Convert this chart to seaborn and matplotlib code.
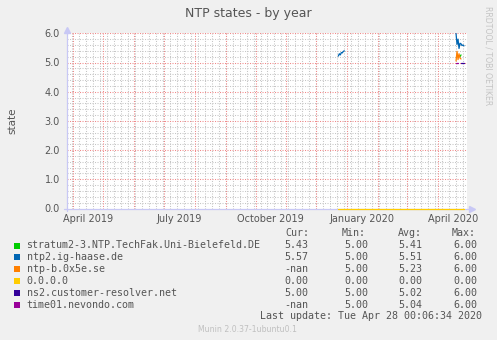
import matplotlib
matplotlib.use("Agg")
import matplotlib.pyplot as plt
import pandas as pd
import seaborn as sns
from matplotlib.patches import Rectangle

# ---- series metadata -------------------------------------------------------
hosts = [
    "stratum2-3.NTP.TechFak.Uni-Bielefeld.DE",
    "ntp2.ig-haase.de",
    "ntp-b.0x5e.se",
    "0.0.0.0",
    "ns2.customer-resolver.net",
    "time01.nevondo.com",
]
colors = ["#00CC00", "#0066B3", "#FF8000", "#FFCC00", "#330099", "#990099"]

cur_vals = ["5.43", "5.57", "-nan", "0.00", "5.00", "-nan"]
min_vals = ["5.00", "5.00", "5.00", "0.00", "5.00", "5.00"]
avg_vals = ["5.41", "5.51", "5.23", "0.00", "5.02", "5.04"]
max_vals = ["6.00", "6.00", "6.00", "0.00", "6.00", "6.00"]

# ---- recorded samples (daily averages), one list pair per contiguous run ---
bielefeld_dates = ["2020-04-23", "2020-04-24"]
bielefeld_vals = [5.20, 5.26]

haase_dates_dec = ["2019-12-23", "2019-12-24", "2019-12-25", "2019-12-26",
                   "2019-12-27", "2019-12-28", "2019-12-29"]
haase_vals_dec = [5.22, 5.30, 5.26, 5.34, 5.33, 5.38, 5.40]

haase_dates_apr = ["2020-04-19", "2020-04-20", "2020-04-21", "2020-04-22",
                   "2020-04-23", "2020-04-24", "2020-04-25", "2020-04-26",
                   "2020-04-27"]
haase_vals_apr = [5.99, 5.62, 5.80, 5.48, 5.66, 5.64, 5.58, 5.60, 5.57]

ox5e_dates = ["2020-04-19", "2020-04-20", "2020-04-21", "2020-04-22",
              "2020-04-23", "2020-04-24"]
ox5e_vals = [5.05, 5.38, 5.10, 5.30, 5.15, 5.12]

zero_dates = ["2019-12-23", "2020-04-27"]
zero_vals = [0.0, 0.0]

resolver_dates = ["2020-04-24", "2020-04-25", "2020-04-26", "2020-04-27"]
resolver_vals = [5.00, 5.00, 5.00, 5.00]

nevondo_dates = ["2020-04-19", "2020-04-20", "2020-04-21"]
nevondo_vals = [5.00, 5.00, 5.00]

runs = [
    (hosts[0], bielefeld_dates, bielefeld_vals),
    (hosts[1], haase_dates_dec, haase_vals_dec),
    (hosts[1], haase_dates_apr, haase_vals_apr),
    (hosts[2], ox5e_dates, ox5e_vals),
    (hosts[3], zero_dates, zero_vals),
    (hosts[4], resolver_dates, resolver_vals),
    (hosts[5], nevondo_dates, nevondo_vals),
]

frames = []
for i, (h, d, v) in enumerate(runs):
    frames.append(pd.DataFrame({"host": h, "run": i,
                                "date": pd.to_datetime(d), "state": v}))
df = pd.concat(frames, ignore_index=True)

# ---- figure ----------------------------------------------------------------
W, H = 497, 340
BG = "#F0F0F0"
TXT = "#555555"
AXIS = "#C8C8F5"
MAJ = "#F08A8A"
MIN = "#C6C6C6"

sns.set_style("white")
plt.rcParams["font.family"] = ["DejaVu Sans"]

fig = plt.figure(figsize=(W / 100, H / 100), dpi=100, facecolor=BG)
x0, x1, ytop, ybot = 67, 467, 33.3, 208.5
ax = fig.add_axes([x0 / W, (H - ybot) / H, (x1 - x0) / W, (ybot - ytop) / H])
ax.set_facecolor("white")

t0 = pd.Timestamp("2019-03-26")
t1 = pd.Timestamp("2020-04-30")
ax.set_xlim(t0, t1)
ax.set_ylim(0, 6)

dot = (0, (1, 1.4))
# minor grid: every 0.2 and every week
for k in range(1, 30):
    if k % 5:
        ax.axhline(k * 0.2, color=MIN, lw=0.75, ls=dot, zorder=0)
for d in pd.date_range(t0, t1, freq="W-SUN"):
    ax.axvline(d, color=MIN, lw=0.75, ls=dot, zorder=0)
# major grid: every unit and every month
for k in range(1, 7):
    ax.axhline(k, color=MAJ, lw=0.75, ls=dot, zorder=0.5)
months = pd.date_range("2019-04-01", t1, freq="MS")
for d in months:
    ax.axvline(d, color=MAJ, lw=0.75, ls=dot, zorder=0.5)

n_before = len(ax.lines)
sns.lineplot(data=df, x="date", y="state", hue="host", units="run",
             estimator=None, hue_order=hosts,
             palette=dict(zip(hosts, colors)), legend=False,
             linewidth=0.9, ax=ax, zorder=3)
for ln in ax.lines[n_before:]:
    ln.set_clip_on(False)

for s in ax.spines.values():
    s.set_visible(False)

# axes with arrowheads
ax.plot([-0.008, 1.012], [0, 0], color=AXIS, lw=0.9, transform=ax.transAxes,
        clip_on=False, zorder=2)
ax.plot([0, 0], [-0.012, 1.02], color=AXIS, lw=0.9, transform=ax.transAxes,
        clip_on=False, zorder=2)
ax.plot([1.012], [0], marker=">", ms=4, color=AXIS, mec=AXIS,
        transform=ax.transAxes, clip_on=False)
ax.plot([0], [1.02], marker="^", ms=4, color=AXIS, mec=AXIS,
        transform=ax.transAxes, clip_on=False)

# ticks
yt = [0, 1, 2, 3, 4, 5, 6]
ax.set_yticks(yt)
ax.set_yticklabels([f"{v:.1f}" for v in yt])
ax.tick_params(axis="y", length=2, color=AXIS, labelsize=7, labelcolor=TXT, pad=3)

label_dates = pd.to_datetime(["2019-04-16", "2019-07-16", "2019-10-16",
                              "2020-01-16", "2020-04-16"])
label_text = ["April 2019", "July 2019", "October 2019", "January 2020", "April 2020"]
ax.set_xticks(label_dates)
ax.set_xticklabels(label_text)
ax.tick_params(axis="x", length=0, labelsize=7, labelcolor=TXT, pad=4)
ax.set_xticks(months, minor=True)
ax.tick_params(axis="x", which="minor", length=2.5, color=MAJ, width=0.8)

ax.set_xlabel("")
ax.set_ylabel("state", fontsize=7.5, color=TXT)
ax.yaxis.set_label_coords(-0.125, 0.5)

# title and side texts
fig.text(248 / W, 1 - 13.5 / H, "NTP states - by year", ha="center",
         va="center", fontsize=9, color=TXT)
fig.text(488 / W, 1 - 56 / H, "RRDTOOL / TOBI OETIKER", rotation=270,
         ha="center", va="center", fontsize=5.6, color="#C4C4C4")

# legend block
mono = "DejaVu Sans Mono"
fs = 7.2
def fy(py):
    return 1 - py / H

fig.text(285 / W, fy(233), "Cur:", family=mono, fontsize=fs, color=TXT, va="center")
fig.text(342 / W, fy(233), "Min:", family=mono, fontsize=fs, color=TXT, va="center")
fig.text(398 / W, fy(233), "Avg:", family=mono, fontsize=fs, color=TXT, va="center")
fig.text(452 / W, fy(233), "Max:", family=mono, fontsize=fs, color=TXT, va="center")

for i, h in enumerate(hosts):
    py = 245.5 + 11.8 * i
    fig.patches.append(Rectangle((14 / W, fy(py + 3)), 6 / W, 6 / H,
                                 transform=fig.transFigure, facecolor=colors[i],
                                 edgecolor="none"))
    fig.text(26.5 / W, fy(py), h, family=mono, fontsize=fs, color=TXT, va="center")
    for xr, col in ((308, cur_vals), (368, min_vals), (422, avg_vals), (477, max_vals)):
        fig.text(xr / W, fy(py), col[i], family=mono, fontsize=fs, color=TXT,
                 va="center", ha="right")

fig.text(482 / W, fy(316), "Last update: Tue Apr 28 00:06:34 2020", family=mono,
         fontsize=fs, color=TXT, va="center", ha="right")
fig.text(248 / W, fy(329), "Munin 2.0.37-1ubuntu0.1", fontsize=5.6,
         color="#C0C0C0", ha="center", va="center")

fig.savefig("out.png", dpi=100, facecolor=BG)
